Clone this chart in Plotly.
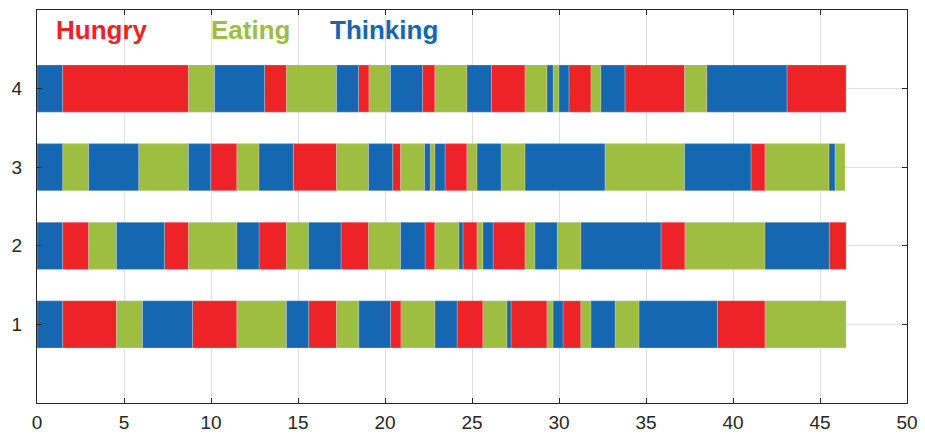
import plotly.graph_objects as go

# segment boundaries (time) per philosopher row, and the state of each segment
# T = Thinking, H = Hungry, E = Eating
row1_edges = [0, 1.47, 4.57, 6.07, 8.94, 11.49, 14.34, 15.61, 17.22, 18.5, 20.32, 20.92, 22.87, 24.14,
              25.63, 27.01, 27.24, 29.31, 29.66, 30.23, 31.26, 31.84, 33.22, 34.6, 39.1, 41.84, 46.5]
row1_states = ["T", "H", "E", "T", "H", "E", "T", "H", "E", "T", "H", "E", "T", "H",
               "E", "T", "H", "E", "T", "H", "E", "T", "E", "T", "H", "E"]

row2_edges = [0, 1.47, 2.97, 4.57, 7.33, 8.71, 11.49, 12.76, 14.34, 15.61, 17.47, 19.06, 20.9, 22.3,
              22.87, 24.25, 24.48, 25.29, 25.63, 26.21, 28.05, 28.62, 29.89, 31.26, 35.86, 37.24, 41.84,
              45.53, 46.5]
row2_states = ["T", "H", "E", "T", "H", "E", "T", "H", "E", "T", "H", "E", "T",
               "H", "E", "T", "H", "E", "T", "H", "E", "T", "E", "T", "H", "E", "T", "H"]

row3_edges = [0, 1.47, 2.97, 5.84, 8.71, 9.98, 11.49, 12.76, 14.73, 17.22, 19.06, 20.44, 20.9, 22.28,
              22.6, 22.87, 23.45, 24.71, 25.29, 26.67, 28.05, 32.64, 37.22, 41.03, 41.84, 45.52, 45.86,
              46.44]
row3_states = ["T", "E", "T", "E", "T", "H", "E", "T", "H", "E", "T", "H", "E",
               "T", "E", "T", "H", "E", "T", "E", "T", "E", "T", "H", "E", "T", "E"]

row4_edges = [0, 1.47, 8.71, 10.21, 13.08, 14.34, 17.22, 18.48, 19.08, 20.32, 22.16, 22.87, 24.71,
              26.11, 28.05, 29.31, 29.66, 30.0, 30.57, 31.84, 32.41, 33.79, 37.22, 38.5, 43.1, 46.5]
row4_states = ["T", "H", "E", "T", "H", "E", "T", "H", "E", "T", "H", "E",
               "T", "H", "E", "T", "E", "T", "H", "E", "T", "H", "E", "T", "H"]

rows = [1, 2, 3, 4]
state_names = {"H": "Hungry", "E": "Eating", "T": "Thinking"}
colors = {"H": "#ED2328", "E": "#9DBE40", "T": "#1467B0"}

all_edges = [row1_edges, row2_edges, row3_edges, row4_edges]
all_states = [row1_states, row2_states, row3_states, row4_states]

fig = go.Figure()
for s in ["H", "E", "T"]:
    ys, xs, bases = [], [], []
    for r, edges, states in zip(rows, all_edges, all_states):
        for i, st in enumerate(states):
            if st == s:
                ys.append(r)
                bases.append(edges[i])
                xs.append(edges[i + 1] - edges[i])
    fig.add_trace(go.Bar(y=ys, x=xs, base=bases, orientation="h", width=0.6,
                         name=state_names[s], showlegend=False,
                         marker=dict(color=colors[s], line=dict(color="rgba(220,220,220,0.6)", width=0.5))))

# coloured legend text across the top
for s, xpos in [("H", 1.0), ("E", 9.9), ("T", 16.7)]:
    fig.add_annotation(x=xpos, y=4.75, text="<b>" + state_names[s] + "</b>", showarrow=False,
                       xanchor="left", yanchor="middle",
                       font=dict(family="Liberation Sans, Arial", size=26, color=colors[s]))

axis_style = dict(showline=True, linecolor="#262626", linewidth=1, mirror="ticks",
                  ticks="inside", ticklen=5, tickcolor="#262626", automargin=False,
                  showgrid=True, gridcolor="#DFDFDF", gridwidth=1, zeroline=False,
                  tickfont=dict(family="Liberation Sans, Arial", size=19, color="#262626"))

fig.update_xaxes(range=[0, 50], tickvals=list(range(0, 51, 5)), ticklabelstandoff=2, **axis_style)
fig.update_yaxes(range=[0, 5], tickvals=rows, ticklabelstandoff=10, **axis_style)

# page body adds an 8px margin, so the figure is a little smaller than the window
fig.update_layout(width=917, height=433, barmode="overlay",
                  margin=dict(l=29, r=18, t=2, b=38),
                  plot_bgcolor="white", paper_bgcolor="white")

fig.write_html("out.html")
